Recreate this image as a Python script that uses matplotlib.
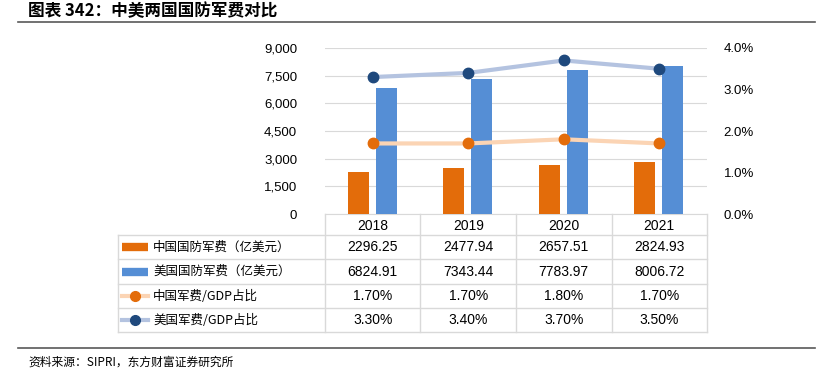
import matplotlib
matplotlib.use("Agg")
import matplotlib.pyplot as plt
import numpy as np
from matplotlib.lines import Line2D

plt.rcParams['font.family'] = ['Liberation Sans', 'Noto Sans CJK SC', 'DejaVu Sans']

years = ['2018', '2019', '2020', '2021']
china_spend = [2296.25, 2477.94, 2657.51, 2824.93]
us_spend = [6824.91, 7343.44, 7783.97, 8006.72]
china_gdp = [1.70, 1.70, 1.80, 1.70]
us_gdp = [3.30, 3.40, 3.70, 3.50]
series_names = ['中国国防军费（亿美元）', '美国国防军费（亿美元）', '中国军费/GDP占比', '美国军费/GDP占比']

c_orange = '#E36C0A'
c_blue = '#558ED5'
c_lorange = '#FBD4B4'
c_dblue = '#1F497D'
c_lblue = '#B4C3E0'
grid_c = '#D9D9D9'

W, H = 825, 372
fig = plt.figure(figsize=(W / 100, H / 100), dpi=100)

def fx(px):
    return px / W

def fy(py):
    return 1 - py / H

# plot area in pixels
x0, x1, ytop, ybot = 325, 707, 48, 214
ax = fig.add_axes([fx(x0), fy(ybot), fx(x1) - fx(x0), fy(ytop) - fy(ybot)])
x = np.arange(len(years))
ax.bar(x - 0.15, china_spend, width=0.22, color=c_orange, zorder=3)
ax.bar(x + 0.14, us_spend, width=0.22, color=c_blue, zorder=3)
ax.set_xlim(-0.5, 3.5)
ax.set_ylim(0, 9000)
ax.set_yticks(np.arange(0, 9001, 1500))
ax.set_yticklabels([f'{v:,}' for v in range(0, 9001, 1500)])
ax.set_xticks([])
ax.grid(axis='y', color=grid_c, linewidth=0.8, zorder=0)
for s in ['left', 'right', 'top']:
    ax.spines[s].set_visible(False)
ax.spines['bottom'].set_color(grid_c)
ax.tick_params(axis='y', length=0, pad=20, labelsize=9.5, colors='#000000')

ax2 = ax.twinx()
ax2.plot(x, china_gdp, color=c_lorange, linewidth=3, marker='o', markersize=7.5,
         markerfacecolor=c_orange, markeredgecolor=c_orange, zorder=4)
ax2.plot(x, us_gdp, color=c_lblue, linewidth=3, marker='o', markersize=7.5,
         markerfacecolor=c_dblue, markeredgecolor=c_dblue, zorder=4)
ax2.set_ylim(0, 4.0)
ax2.set_yticks(np.arange(0, 4.01, 1.0))
ax2.set_yticklabels([f'{v:.1f}%' for v in np.arange(0, 4.01, 1.0)])
for s in ['left', 'right', 'top', 'bottom']:
    ax2.spines[s].set_visible(False)
ax2.tick_params(axis='y', length=0, pad=12, labelsize=9.5)

# data table under the chart
tl = 118
col_x = [x0 + (x1 - x0) / 4 * k for k in range(5)]
row_y = [214, 235, 259, 284, 308, 332]

def hline(y, xa, xb):
    fig.add_artist(Line2D([fx(xa), fx(xb)], [fy(y), fy(y)], color=grid_c, linewidth=1))

def vline(xp, ya, yb):
    fig.add_artist(Line2D([fx(xp), fx(xp)], [fy(ya), fy(yb)], color=grid_c, linewidth=1))

for y in row_y[1:]:
    hline(y, tl, x1)
vline(tl, row_y[1], row_y[-1])
for xp in col_x:
    vline(xp, row_y[0], row_y[-1])

for i, yr in enumerate(years):
    cx = (col_x[i] + col_x[i + 1]) / 2
    fig.text(fx(cx), fy((row_y[0] + row_y[1]) / 2 + 1), yr, ha='center', va='center', fontsize=10)

table_rows = [
    [f'{v:.2f}' for v in china_spend],
    [f'{v:.2f}' for v in us_spend],
    [f'{v:.2f}%' for v in china_gdp],
    [f'{v:.2f}%' for v in us_gdp],
]
for r in range(4):
    cy = (row_y[r + 1] + row_y[r + 2]) / 2
    for i, val in enumerate(table_rows[r]):
        cx = (col_x[i] + col_x[i + 1]) / 2
        fig.text(fx(cx), fy(cy), val, ha='center', va='center', fontsize=10)
    fig.text(fx(153), fy(cy), series_names[r], ha='left', va='center', fontsize=9,
             family=['Noto Sans CJK SC', 'Liberation Sans'])

# legend keys in the table
kx0, kx1 = 122, 148
for r, col in enumerate([c_orange, c_blue]):
    cy = (row_y[r + 1] + row_y[r + 2]) / 2
    fig.add_artist(Line2D([fx(kx0), fx(kx1)], [fy(cy), fy(cy)], color=col, linewidth=6,
                          solid_capstyle='butt'))
for r, (lc, mc) in enumerate([(c_lorange, c_orange), (c_lblue, c_dblue)]):
    cy = (row_y[r + 3] + row_y[r + 4]) / 2
    fig.add_artist(Line2D([fx(kx0), fx(kx1)], [fy(cy), fy(cy)], color=lc, linewidth=3))
    fig.add_artist(Line2D([fx((kx0 + kx1) / 2)], [fy(cy)], marker='o', markersize=7,
                          color=mc, linestyle='none'))

# title, rules, source
fig.text(fx(28), fy(11), '图表 342：中美两国国防军费对比', ha='left', va='center',
         fontsize=12, fontweight='bold', family=['Noto Sans CJK SC', 'DejaVu Sans'])
fig.add_artist(Line2D([fx(18), fx(815)], [fy(22), fy(22)], color='#595959', linewidth=1.2))
fig.add_artist(Line2D([fx(18), fx(815)], [fy(348), fy(348)], color='#595959', linewidth=1.2))
fig.text(fx(28), fy(362), '资料来源：SIPRI，东方财富证券研究所', ha='left', va='center',
         fontsize=8.5, family=['Noto Sans CJK SC', 'DejaVu Sans'])

fig.savefig('out.png', dpi=100)
